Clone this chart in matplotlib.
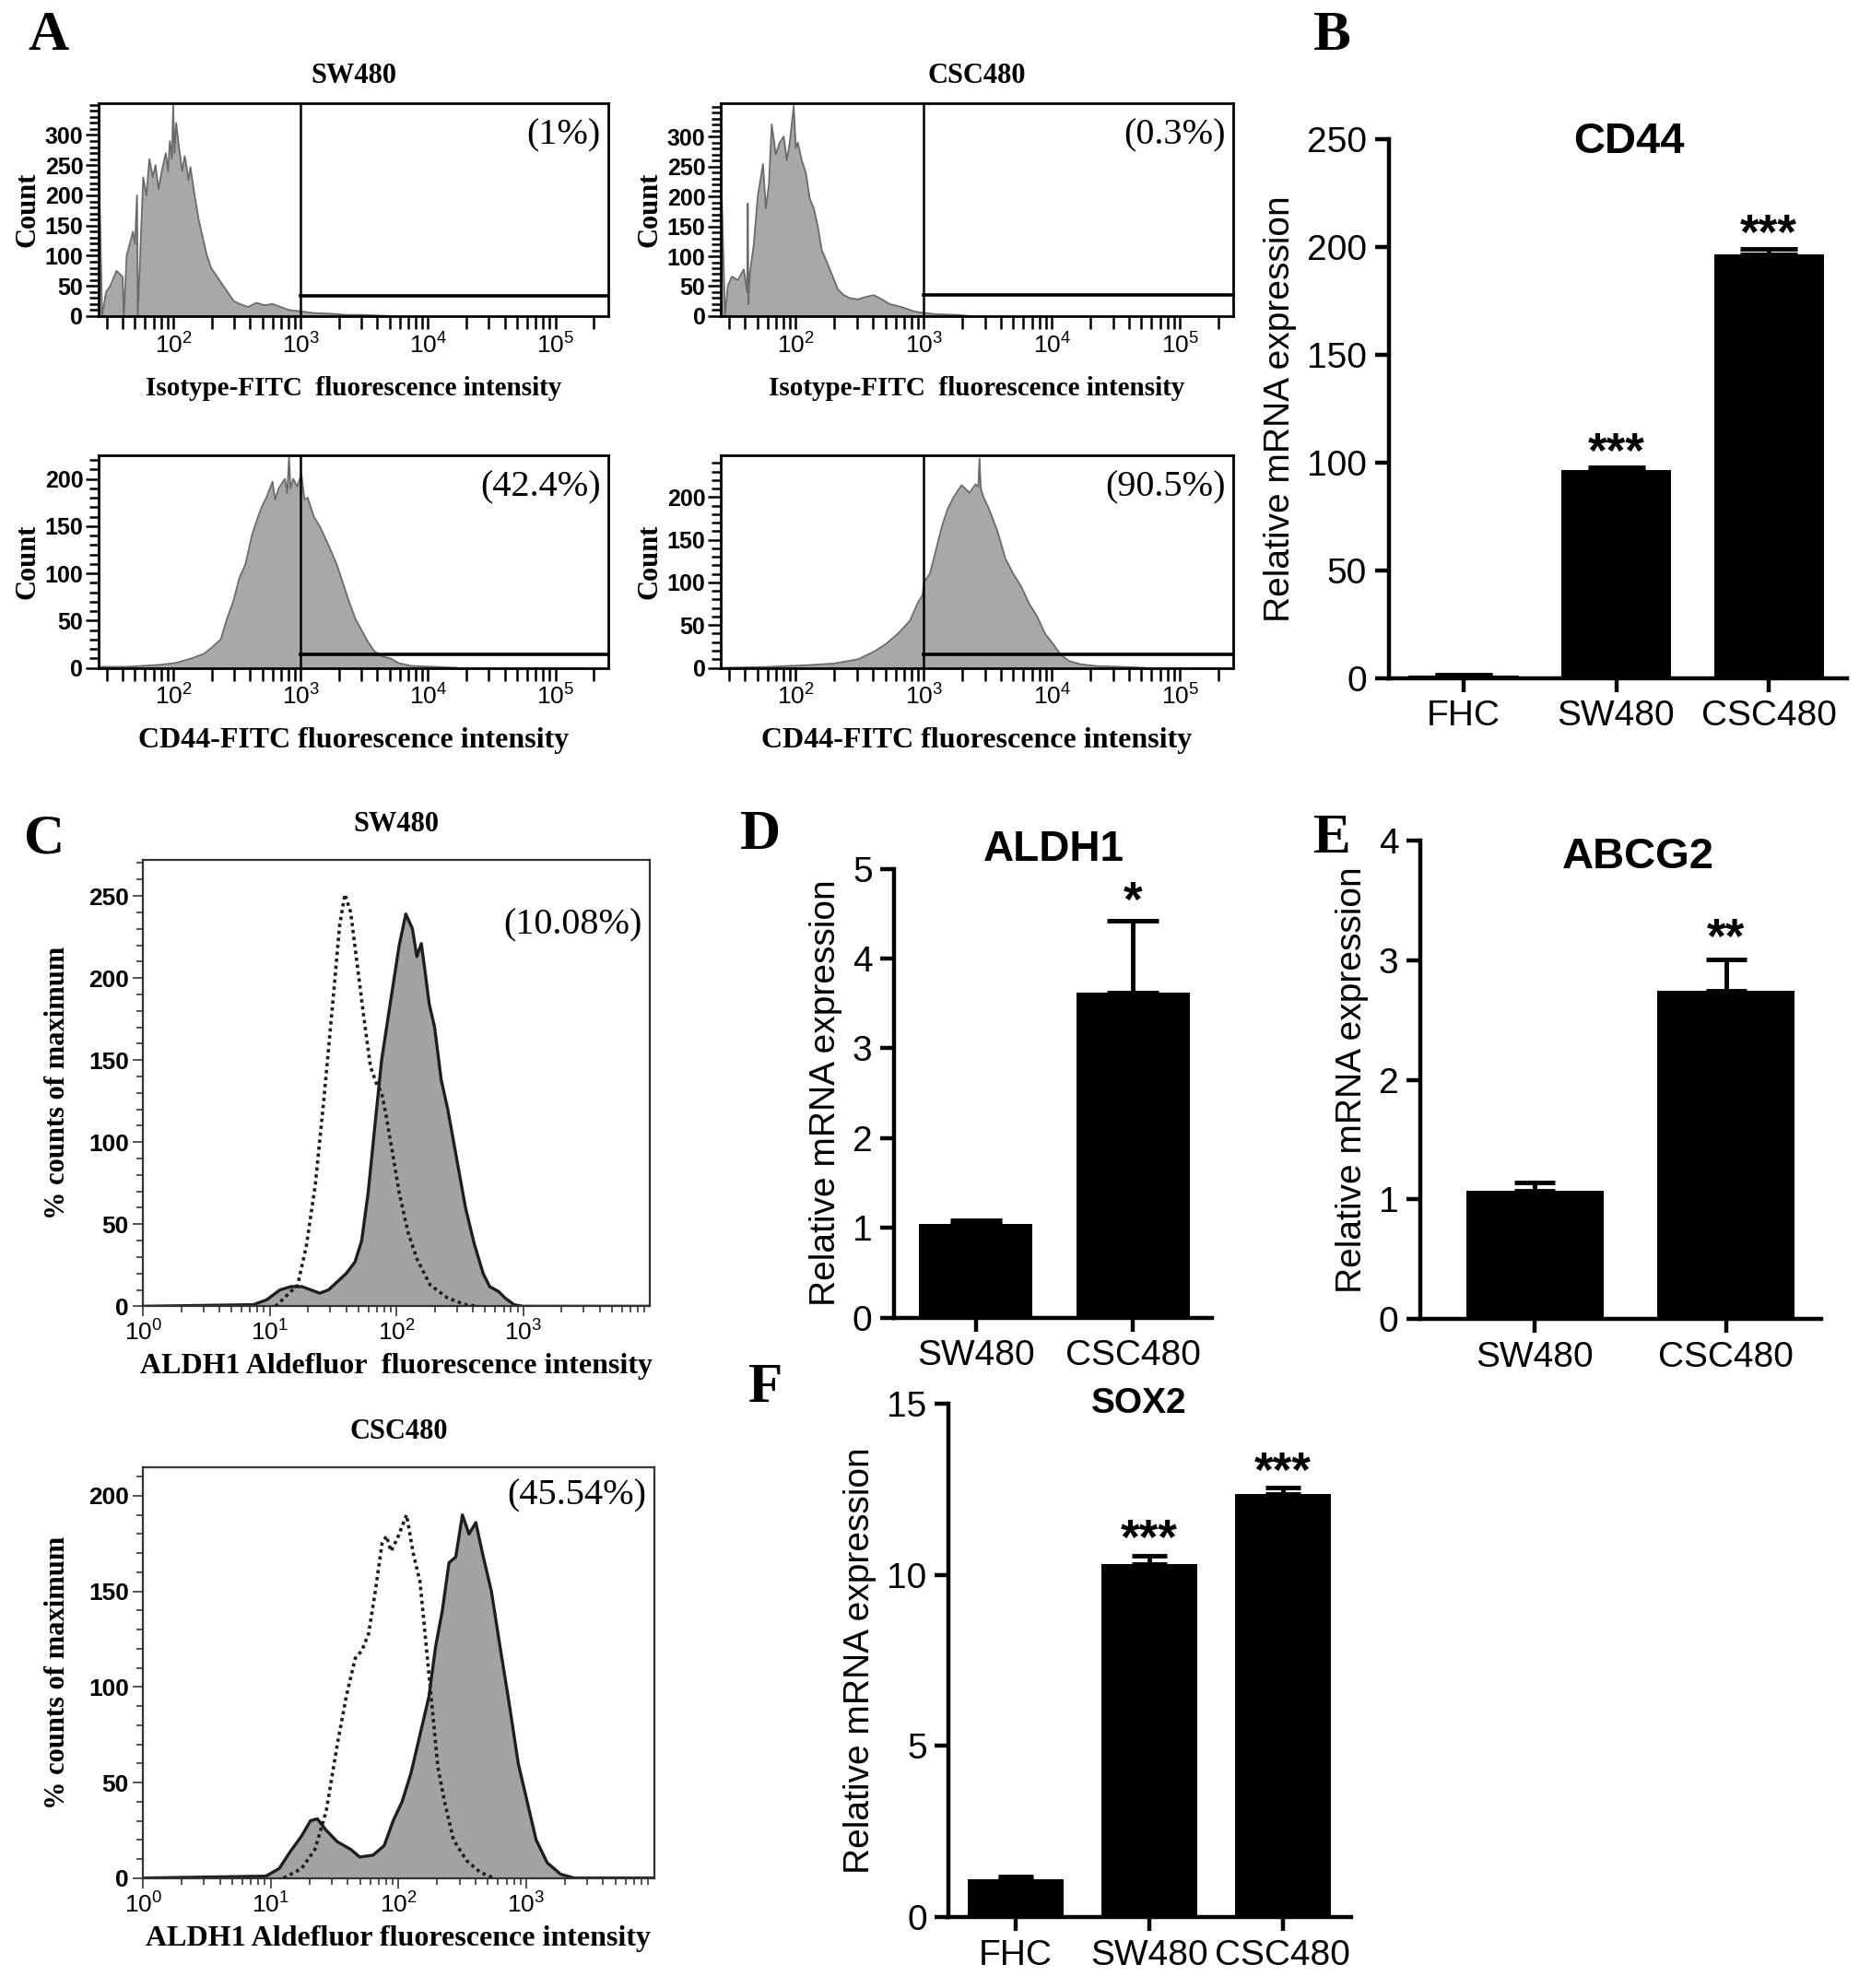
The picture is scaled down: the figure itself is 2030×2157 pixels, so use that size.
import numpy as np
import matplotlib
matplotlib.use('Agg')
import matplotlib.pyplot as plt
from matplotlib.ticker import LogLocator, FixedLocator, MultipleLocator, NullFormatter

SANS = 'Liberation Sans'
SERIF = 'Liberation Serif'
plt.rcParams['font.family'] = [SANS, 'DejaVu Sans']
plt.rcParams['mathtext.fontset'] = 'custom'
plt.rcParams['mathtext.rm'] = SANS
plt.rcParams['mathtext.it'] = SANS + ':italic'
plt.rcParams['mathtext.bf'] = SANS + ':bold'

# ---- panel A: CD44 flow histograms (log10 intensity, count) ----
iso_sw_lx = [1.416, 1.420, 1.442, 1.474, 1.506, 1.555, 1.603, 1.613, 1.635, 1.684,
             1.700, 1.716, 1.722, 1.765, 1.790, 1.813, 1.840, 1.861, 1.885, 1.910,
             1.942, 1.960, 1.974, 1.990, 2.000, 2.010, 2.023, 2.045, 2.071, 2.090,
             2.103, 2.120, 2.135, 2.168, 2.200, 2.232, 2.265, 2.297, 2.329, 2.377,
             2.426, 2.474, 2.523, 2.587, 2.652, 2.716, 2.781, 2.845, 2.910, 3.000,
             3.103, 3.232, 3.361, 3.490, 3.716]
iso_sw_cnt = [0, 220, 0, 40, 50, 75, 65, 0, 100, 140,
              120, 200, 0, 230, 200, 260, 230, 250, 210, 240,
              270, 240, 290, 260, 350, 270, 320, 280, 240, 265,
              250, 225, 247, 200, 160, 130, 100, 80, 70, 55,
              40, 25, 20, 15, 22, 18, 20, 15, 10, 8,
              5, 4, 2, 2, 0]

iso_csc_lx = [1.418, 1.422, 1.447, 1.469, 1.500, 1.547, 1.594, 1.620, 1.625, 1.630,
              1.641, 1.672, 1.703, 1.744, 1.766, 1.790, 1.812, 1.844, 1.875, 1.906,
              1.930, 1.953, 1.984, 2.000, 2.016, 2.047, 2.078, 2.109, 2.141, 2.172,
              2.203, 2.234, 2.281, 2.328, 2.375, 2.422, 2.484, 2.547, 2.609, 2.672,
              2.734, 2.828, 2.922, 3.000, 3.109, 3.266, 3.359]
iso_csc_cnt = [0, 200, 0, 50, 66, 60, 78, 40, 188, 20,
               70, 120, 200, 254, 180, 220, 320, 270, 290, 300,
               260, 290, 351, 280, 290, 260, 240, 196, 180, 150,
               110, 95, 70, 45, 35, 30, 28, 32, 35, 28,
               20, 15, 8, 5, 3, 2, 0]

cd44_sw_lx = [1.432, 1.627, 1.886, 2.016, 2.146, 2.244, 2.308, 2.373, 2.422, 2.471,
              2.519, 2.568, 2.617, 2.666, 2.700, 2.731, 2.779, 2.800, 2.828, 2.877,
              2.895, 2.909, 2.920, 2.942, 2.974, 3.006, 3.030, 3.055, 3.104, 3.153,
              3.218, 3.282, 3.331, 3.380, 3.429, 3.477, 3.526, 3.575, 3.640, 3.705,
              3.769, 3.867, 4.062, 4.224]
cd44_sw_cnt = [1, 1, 3, 5, 10, 15, 22, 30, 52, 70,
               95, 110, 140, 160, 172, 180, 197, 178, 190, 200,
               185, 223, 190, 200, 192, 205, 178, 180, 160, 149,
               130, 110, 90, 70, 52, 40, 28, 18, 12, 10,
               5, 2, 1, 0]

cd44_csc_lx = [1.432, 1.773, 2.084, 2.301, 2.488, 2.612, 2.705, 2.798, 2.891, 2.953,
               2.990, 3.000, 3.047, 3.093, 3.140, 3.186, 3.233, 3.295, 3.357, 3.404,
               3.425, 3.435, 3.445, 3.466, 3.512, 3.575, 3.637, 3.699, 3.761, 3.823,
               3.885, 3.947, 4.009, 4.071, 4.134, 4.227, 4.351, 4.568, 4.724]
cd44_csc_cnt = [0, 1, 3, 5, 10, 19, 28, 40, 55, 76,
                85, 100, 110, 137, 165, 186, 200, 214, 205, 215,
                212, 245, 210, 200, 185, 160, 128, 110, 95, 75,
                60, 40, 28, 15, 8, 4, 2, 1, 0]

# ---- panel C: Aldefluor histograms (log10 intensity, % of max) ----
aldh_sw_lx = [0.0, 0.871, 0.976, 1.080, 1.167, 1.254, 1.324, 1.394, 1.463, 1.533,
              1.603, 1.672, 1.725, 1.777, 1.829, 1.882, 1.951, 2.021, 2.073, 2.125,
              2.160, 2.195, 2.223, 2.258, 2.300, 2.352, 2.404, 2.474, 2.544, 2.613,
              2.683, 2.735, 2.805, 2.857, 2.927, 2.997, 4.0]
aldh_sw_cnt = [0, 1, 4, 10, 12, 12, 10, 8, 10, 15,
               20, 27, 40, 70, 110, 150, 185, 220, 239, 230,
               213, 221, 205, 184, 170, 138, 120, 90, 60, 38,
               20, 12, 9, 5, 1, 0, 0]
aldh_sw_ctrl_lx = [1.045, 1.220, 1.289, 1.359, 1.429, 1.498, 1.551, 1.592, 1.638, 1.690,
                   1.742, 1.794, 1.840, 1.882, 1.916, 1.969, 2.021, 2.091, 2.160, 2.265,
                   2.404, 2.544, 2.648]
aldh_sw_ctrl_cnt = [0, 13, 37, 74, 128, 186, 232, 251, 240, 208,
                    176, 146, 136, 130, 117, 93, 69, 45, 29, 13,
                    5, 1, 0]

aldh_csc_lx = [0.0, 0.962, 1.066, 1.154, 1.241, 1.311, 1.364, 1.434, 1.521, 1.626,
               1.696, 1.801, 1.888, 1.958, 2.028, 2.098, 2.168, 2.238, 2.290, 2.343,
               2.395, 2.448, 2.500, 2.552, 2.605, 2.657, 2.727, 2.797, 2.867, 2.937,
               3.007, 3.077, 3.164, 3.269, 3.374, 4.0]
aldh_csc_cnt = [0, 1, 5, 14, 22, 30, 31, 25, 19, 15,
                11, 12, 17, 30, 40, 55, 75, 95, 121, 140,
                165, 168, 190, 180, 186, 170, 150, 120, 91, 60,
                40, 20, 8, 2, 0, 0]
aldh_csc_ctrl_lx = [1.101, 1.241, 1.346, 1.434, 1.521, 1.591, 1.661, 1.713, 1.766, 1.818,
                    1.871, 1.906, 1.941, 1.993, 2.063, 2.115, 2.168, 2.203, 2.255, 2.308,
                    2.360, 2.430, 2.535, 2.640, 2.745]
aldh_csc_ctrl_cnt = [0, 5, 15, 35, 70, 95, 115, 119, 128, 150,
                     175, 179, 171, 178, 190, 170, 155, 131, 95, 58,
                     40, 20, 9, 3, 0]

# ---- bar charts ----
cd44_groups = ['FHC', 'SW480', 'CSC480']
cd44_mean = [1.0, 96.6, 196.5]
cd44_err = [0.3, 1.2, 2.8]
cd44_stars = ['', '***', '***']

aldh1_groups = ['SW480', 'CSC480']
aldh1_mean = [1.04, 3.62]
aldh1_err = [0.04, 0.80]
aldh1_stars = ['', '*']

abcg2_groups = ['SW480', 'CSC480']
abcg2_mean = [1.07, 2.75]
abcg2_err = [0.07, 0.26]
abcg2_stars = ['', '**']

sox2_groups = ['FHC', 'SW480', 'CSC480']
sox2_mean = [1.11, 10.32, 12.37]
sox2_err = [0.08, 0.24, 0.18]
sox2_stars = ['', '***', '***']


def decade_labels(exps):
    return [r'$\mathregular{10^{%d}}$' % e for e in exps]


def flow_count_panel(ax, lx, cnt, ymax, ytop, gate_y, pct, xlabel, xlabel_size, title=None):
    x = 10 ** np.array(lx)
    ax.fill_between(x, cnt, color='#a8a8a8', lw=0, zorder=1)
    ax.plot(x, cnt, color='#6a6a6a', lw=1.3, zorder=2)
    ax.set_xscale('log')
    ax.set_xlim(26, 2.6e5)
    ax.set_ylim(0, ymax)
    ax.axvline(1e3, color='black', lw=1.8, zorder=3)
    ax.plot([1e3, 2.6e5], [gate_y, gate_y], color='black', lw=2.6, zorder=3)

    ax.xaxis.set_major_locator(FixedLocator([1e2, 1e3, 1e4, 1e5]))
    ax.set_xticklabels(decade_labels([2, 3, 4, 5]))
    ax.xaxis.set_minor_locator(LogLocator(base=10, subs=np.arange(2, 10), numticks=30))
    ax.xaxis.set_minor_formatter(NullFormatter())
    ax.set_yticks(np.arange(0, ytop + 1, 50))
    ax.yaxis.set_minor_locator(MultipleLocator(10))
    ax.tick_params(axis='both', which='both', direction='out', width=1.8, color='black')
    ax.tick_params(axis='x', which='both', length=10, labelsize=19, pad=3)
    ax.tick_params(axis='y', which='major', length=10, labelsize=18, pad=2)
    ax.tick_params(axis='y', which='minor', length=7)
    for lab in ax.get_yticklabels():
        lab.set_fontweight('bold')
    for sp in ax.spines.values():
        sp.set_linewidth(2.0)

    ax.set_ylabel('Count', family=SERIF, fontweight='bold', fontsize=22, labelpad=3)
    ax.set_xlabel(xlabel, family=SERIF, fontweight='bold', fontsize=xlabel_size, labelpad=14)
    ax.text(0.985, 0.85, pct, transform=ax.transAxes, ha='right', va='center',
            family=SERIF, fontsize=29)
    if title:
        ax.set_title(title, family=SERIF, fontweight='bold', fontsize=22, pad=16)


def flow_aldh_panel(ax, lx, cnt, ctrl_lx, ctrl_cnt, ymax, ytop, pct, pct_y, title, xlabel):
    x = 10 ** np.array(lx)
    ax.fill_between(x, cnt, color='#a3a3a3', lw=0, zorder=1)
    ax.plot(x, cnt, color='#1e1e1e', lw=2.4, zorder=2)
    ax.plot(10 ** np.array(ctrl_lx), ctrl_cnt, color='#1e1e1e', lw=2.6,
            ls=(0, (1, 1.1)), zorder=3)
    ax.set_xscale('log')
    ax.set_xlim(1, 1e4)
    ax.set_ylim(0, ymax)

    ax.xaxis.set_major_locator(FixedLocator([1, 10, 100, 1000]))
    ax.set_xticklabels(decade_labels([0, 1, 2, 3]))
    ax.xaxis.set_minor_locator(LogLocator(base=10, subs=np.arange(2, 10), numticks=30))
    ax.xaxis.set_minor_formatter(NullFormatter())
    ax.set_yticks(np.arange(0, ytop + 1, 50))
    ax.yaxis.set_minor_locator(MultipleLocator(10))
    ax.tick_params(axis='both', which='both', direction='out', width=1.4, color='#555555')
    ax.tick_params(axis='both', which='major', length=8, labelsize=19, pad=3)
    ax.tick_params(axis='both', which='minor', length=5)
    for lab in ax.get_yticklabels():
        lab.set_fontweight('bold')
    for sp in ax.spines.values():
        sp.set_linewidth(1.6)
        sp.set_color('#333333')

    ax.set_ylabel('% counts of maximum', family=SERIF, fontweight='bold', fontsize=22, labelpad=14)
    ax.set_xlabel(xlabel, family=SERIF, fontweight='bold', fontsize=23, labelpad=6)
    ax.text(0.985, pct_y, pct, transform=ax.transAxes, ha='right', va='center',
            family=SERIF, fontsize=29)
    ax.set_title(title, family=SERIF, fontweight='bold', fontsize=22, pad=22)


def bar_panel(ax, groups, means, errs, stars, ymax, ystep, xlim, title, title_xy,
              title_size, star_pad, capsize):
    xs = np.arange(len(groups))
    ax.bar(xs, means, width=0.72, color='black', zorder=2)
    ax.errorbar(xs, means, yerr=[np.zeros(len(errs)), errs], fmt='none', ecolor='black',
                elinewidth=3.5, capsize=capsize, capthick=3.5, zorder=3)
    for x, m, e, s in zip(xs, means, errs, stars):
        if s:
            ax.text(x, m + e + star_pad, s, ha='center', va='center', fontsize=38,
                    fontweight='bold')
    ax.set_xlim(*xlim)
    ax.set_ylim(0, ymax)
    ax.set_yticks(np.arange(0, ymax + ystep / 2, ystep))
    ax.set_xticks(xs)
    ax.set_xticklabels(groups)
    for side in ['top', 'right']:
        ax.spines[side].set_visible(False)
    for side in ['left', 'bottom']:
        ax.spines[side].set_linewidth(3.2)
    ax.tick_params(direction='out', length=11, width=3.2, labelsize=28, pad=6)
    ax.set_ylabel('Relative mRNA expression', fontsize=28, labelpad=8)
    ax.text(title_xy[0], title_xy[1], title, transform=ax.transAxes, ha='center',
            va='center', fontsize=title_size, fontweight='bold')


fig = plt.figure(figsize=(20.31, 21.57), dpi=100)

ax_a1 = fig.add_axes([0.0527, 0.841, 0.2723, 0.1069])
ax_a2 = fig.add_axes([0.3851, 0.841, 0.2736, 0.1069])
ax_a3 = fig.add_axes([0.0527, 0.6641, 0.2723, 0.1069])
ax_a4 = fig.add_axes([0.3851, 0.6641, 0.2736, 0.1069])
ax_b = fig.add_axes([0.7419, 0.659, 0.2446, 0.271])
ax_c1 = fig.add_axes([0.0764, 0.3429, 0.2709, 0.2246])
ax_c2 = fig.add_axes([0.0764, 0.0553, 0.2730, 0.2067])
ax_d = fig.add_axes([0.4777, 0.3372, 0.1696, 0.2258])
ax_e = fig.add_axes([0.7588, 0.3365, 0.2142, 0.2405])
ax_f = fig.add_axes([0.5068, 0.0356, 0.2149, 0.2583])

flow_count_panel(ax_a1, iso_sw_lx, iso_sw_cnt, 352, 300, 33, '(1%)',
                 'Isotype-FITC  fluorescence intensity', 21, title='SW480')
flow_count_panel(ax_a2, iso_csc_lx, iso_csc_cnt, 355, 300, 35, '(0.3%)',
                 'Isotype-FITC  fluorescence intensity', 21, title='CSC480')
flow_count_panel(ax_a3, cd44_sw_lx, cd44_sw_cnt, 225, 200, 14, '(42.4%)',
                 'CD44-FITC fluorescence intensity', 23)
flow_count_panel(ax_a4, cd44_csc_lx, cd44_csc_cnt, 249, 200, 16, '(90.5%)',
                 'CD44-FITC fluorescence intensity', 23)

bar_panel(ax_b, cd44_groups, cd44_mean, cd44_err, cd44_stars, 250, 50, (-0.49, 2.51),
          'CD44', (0.525, 0.995), 34, 6, 22)

flow_aldh_panel(ax_c1, aldh_sw_lx, aldh_sw_cnt, aldh_sw_ctrl_lx, aldh_sw_ctrl_cnt,
                272, 250, '(10.08%)', 0.853, 'SW480',
                'ALDH1 Aldefluor  fluorescence intensity')
flow_aldh_panel(ax_c2, aldh_csc_lx, aldh_csc_cnt, aldh_csc_ctrl_lx, aldh_csc_ctrl_cnt,
                215, 200, '(45.54%)', 0.93, 'CSC480',
                'ALDH1 Aldefluor fluorescence intensity')

bar_panel(ax_d, aldh1_groups, aldh1_mean, aldh1_err, aldh1_stars, 5, 1, (-0.52, 1.5),
          'ALDH1', (0.502, 1.042), 33, 0.2, 20)
bar_panel(ax_e, abcg2_groups, abcg2_mean, abcg2_err, abcg2_stars, 4, 1, (-0.6, 1.5),
          'ABCG2', (0.543, 0.966), 34, 0.16, 16)
bar_panel(ax_f, sox2_groups, sox2_mean, sox2_err, sox2_stars, 15, 5, (-0.5, 2.51),
          'SOX2', (0.472, 1.0), 28, 0.42, 14)

letters = [('A', 0.0257, 0.982), ('B', 0.7115, 0.982), ('C', 0.0236, 0.578),
           ('D', 0.406, 0.580), ('E', 0.7115, 0.578), ('F', 0.4088, 0.302)]
for txt, lx, ly in letters:
    fig.text(lx, ly, txt, ha='center', va='center', family=SERIF, fontweight='bold',
             fontsize=44)

fig.savefig('out.png', dpi=100, facecolor='white')
